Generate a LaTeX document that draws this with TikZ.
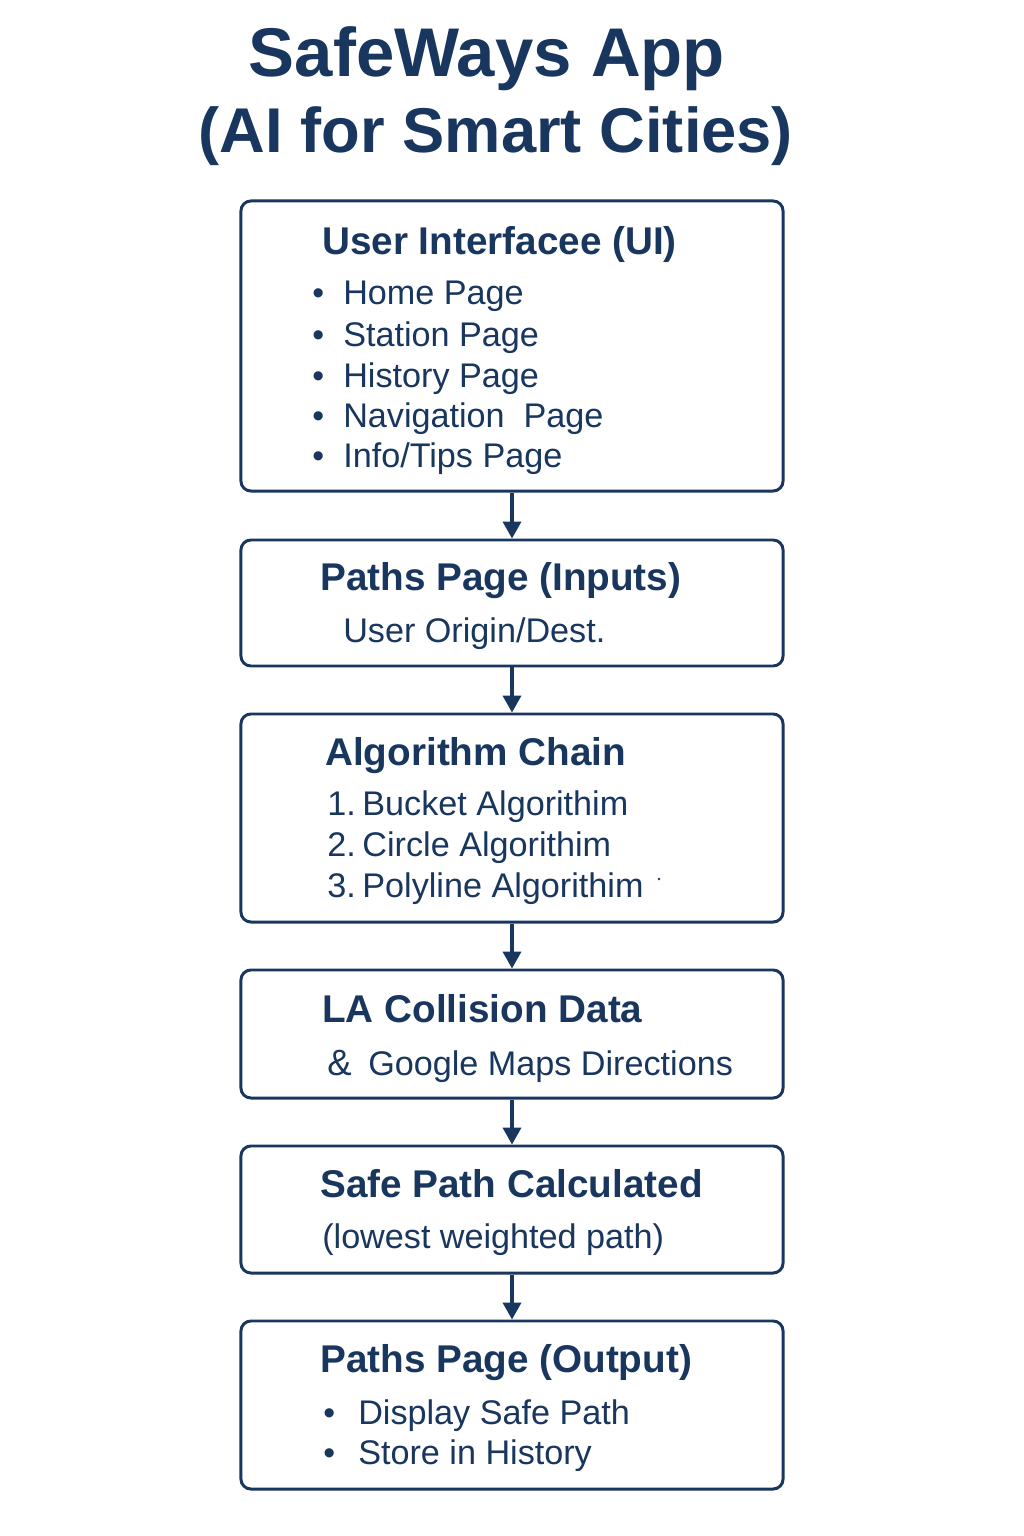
\documentclass[tikz,border=0pt]{standalone}
\usepackage{fontspec}
\setmainfont{Liberation Sans}
\usetikzlibrary{arrows.meta}
\definecolor{navy}{RGB}{24,54,94}
\begin{document}
\begin{tikzpicture}[x=0.025cm,y=-0.025cm,
  box/.style={draw=navy, line width=2.1pt, rounded corners=0.25cm, minimum width=13.55cm, inner sep=0pt},
  link/.style={draw=navy, line width=2.3pt, -{Triangle[width=0.45cm,length=0.42cm]}},
  ttl/.style={anchor=base, text=navy, inner sep=0pt, font=\fontsize{49}{58}\selectfont\bfseries},
  hd/.style={anchor=base west, text=navy, inner sep=0pt, font=\fontsize{27.5}{33}\selectfont\bfseries},
  tx/.style={anchor=base west, text=navy, inner sep=0pt, font=\fontsize{24.3}{29}\selectfont},
  dot/.style={anchor=base west, text=navy, inner sep=0pt, font=\fontsize{24}{29}\selectfont}]
  % page
  \fill[white] (0,0) rectangle (1024,1536);
  \useasboundingbox (0,0) rectangle (1024,1536);

  % title
  \node[ttl] (t1) at (487,77) {SafeWays App};
  \node[ttl, font=\fontsize{45}{54}\selectfont\bfseries] (t2) at (496,153) {(AI for Smart Cities)};

  % boxes
  \node[box, minimum height=7.25cm]  (ui)  at (512,346) {};
  \node[box, minimum height=3.15cm]  (inp) at (512,603) {};
  \node[box, minimum height=5.2cm]   (alg) at (512,818) {};
  \node[box, minimum height=3.2cm]   (dat) at (512,1034) {};
  \node[box, minimum height=3.175cm] (calc) at (512,1209.5) {};
  \node[box, minimum height=4.2cm]   (out) at (512,1405) {};

  % connectors
  \draw[link] (ui.south) -- (inp.north);
  \draw[link] (inp.south) -- (alg.north);
  \draw[link] (alg.south) -- (dat.north);
  \draw[link] (dat.south) -- (calc.north);
  \draw[link] (calc.south) -- (out.north);

  % user interface
  \node[hd] (uih) at (322,255) {User Interfacee (UI)};
  \foreach \y/\t [count=\i] in {305/{Home Page}, 346/{Station Page}, 387/{History Page}, 427/{Navigation\ \ Page}, 467/{Info/Tips Page}}{
    \node[dot] (uib\i) at (312,\y) {•};
    \node[tx] (uit\i) at (343,\y) {\t};
  }

  % inputs
  \node[hd] (inph) at (320,590) {Paths Page (Inputs)};
  \node[tx] (inpt) at (343,642) {User Origin/Dest.};

  % algorithm chain
  \node[hd] (algh) at (325,765) {Algorithm Chain};
  \node[tx] (alg1) at (327,815) {1.\kern-2pt\ Bucket Algorithim};
  \node[tx] (alg2) at (327,856) {2.\kern-2pt\ Circle Algorithim};
  \node[tx] (alg3) at (327,897) {3.\kern-2pt\ Polyline Algorithim};
  \fill[navy] (659,879) circle (1.4);

  % data sources
  \node[hd] (dath) at (322,1022) {LA Collision Data};
  \node[tx, font=\fontsize{26}{30}\selectfont] (data) at (327,1075) {\&};
  \node[tx] (datt) at (368,1075) {Google Maps Directions};

  % result
  \node[hd] (calch) at (320,1197) {Safe Path Calculated};
  \node[tx] (calct) at (322,1248) {(lowest weighted path)};

  % output
  \node[hd] (outh) at (320,1372) {Paths Page (Output)};
  \node[dot] (outb1) at (323,1424) {•};
  \node[tx] (outt1) at (358,1424) {Display Safe Path};
  \node[dot] (outb2) at (323,1464) {•};
  \node[tx] (outt2) at (358,1464) {Store in History};
\end{tikzpicture}
\end{document}
